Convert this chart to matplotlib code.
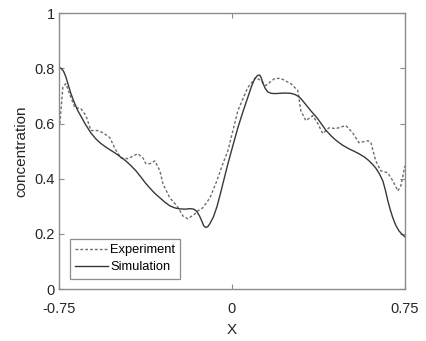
import numpy as np
import matplotlib
matplotlib.use("Agg")
import matplotlib.pyplot as plt

plt.rcParams['font.family'] = ['Liberation Sans', 'DejaVu Sans']

# simulation profile
x_sim = [-0.75, -0.74, -0.73, -0.72, -0.71, -0.698, -0.685, -0.668, -0.65,
         -0.637, -0.611, -0.59, -0.568, -0.545, -0.524, -0.50, -0.481, -0.46,
         -0.438, -0.415, -0.394, -0.375, -0.355, -0.335, -0.312, -0.29, -0.269,
         -0.245, -0.225, -0.20, -0.182, -0.165, -0.152, -0.14, -0.130, -0.122,
         -0.115, -0.105, -0.095, -0.08, -0.065, -0.05, -0.039, -0.017, 0.005,
         0.026, 0.048, 0.069, 0.085, 0.100, 0.112, 0.121, 0.128, 0.134, 0.145,
         0.156, 0.17, 0.186, 0.21, 0.230, 0.255, 0.273, 0.29, 0.30, 0.32,
         0.342, 0.36, 0.373, 0.39, 0.407, 0.43, 0.451, 0.48, 0.507, 0.53,
         0.551, 0.575, 0.594, 0.61, 0.624, 0.64, 0.655, 0.666, 0.676, 0.687,
         0.698, 0.71, 0.724, 0.737, 0.75]
c_sim = [0.804, 0.800, 0.790, 0.770, 0.742, 0.709, 0.680, 0.647, 0.620,
         0.600, 0.566, 0.545, 0.528, 0.514, 0.503, 0.490, 0.478, 0.465,
         0.448, 0.428, 0.406, 0.385, 0.366, 0.348, 0.331, 0.315, 0.302,
         0.294, 0.291, 0.290, 0.292, 0.290, 0.282, 0.265, 0.246, 0.230,
         0.224, 0.226, 0.238, 0.262, 0.298, 0.345, 0.382, 0.455, 0.522,
         0.585, 0.643, 0.695, 0.735, 0.764, 0.775, 0.776, 0.765, 0.748, 0.727,
         0.715, 0.710, 0.709, 0.710, 0.711, 0.710, 0.706, 0.698, 0.690, 0.670,
         0.647, 0.630, 0.617, 0.597, 0.577, 0.556, 0.540, 0.522, 0.509, 0.500,
         0.491, 0.479, 0.466, 0.453, 0.439, 0.418, 0.392, 0.358, 0.322, 0.288,
         0.259, 0.233, 0.212, 0.200, 0.19]

# measured profile
x_exp = [-0.746, -0.733, -0.720, -0.698, -0.681, -0.655, -0.633, -0.611, -0.581,
         -0.559, -0.529, -0.507, -0.481, -0.451, -0.408, -0.386, -0.373, -0.355,
         -0.334, -0.312, -0.299, -0.269, -0.238, -0.212, -0.191, -0.160, -0.147,
         -0.126, -0.095, -0.065, -0.039, -0.017, 0.026, 0.069, 0.104, 0.126,
         0.147, 0.186, 0.212, 0.256, 0.286, 0.299, 0.321, 0.351, 0.373, 0.394,
         0.421, 0.451, 0.494, 0.524, 0.551, 0.590, 0.603, 0.624, 0.646, 0.676,
         0.698, 0.720, 0.733, 0.746, 0.75]
c_exp = [0.60, 0.731, 0.745, 0.695, 0.658, 0.655, 0.629, 0.575, 0.575,
         0.567, 0.549, 0.509, 0.476, 0.473, 0.491, 0.476, 0.455, 0.455,
         0.465, 0.429, 0.382, 0.331, 0.302, 0.265, 0.255, 0.273, 0.284,
         0.295, 0.331, 0.393, 0.455, 0.502, 0.647, 0.731, 0.767, 0.756,
         0.738, 0.764, 0.764, 0.745, 0.720, 0.647, 0.611, 0.629, 0.600, 0.564,
         0.585, 0.582, 0.593, 0.567, 0.531, 0.538, 0.531, 0.465, 0.429, 0.422,
         0.393, 0.356, 0.375, 0.429, 0.447]

x_ticks = [-0.75, 0, 0.75]
x_tick_labels = ['-0.75', '0', '0.75']
y_ticks = [0, 0.2, 0.4, 0.6, 0.8, 1]
y_tick_labels = ['0', '0.2', '0.4', '0.6', '0.8', '1']

fig = plt.figure(figsize=(4.27, 3.41), dpi=100)
ax = fig.add_axes([0.138, 0.152, 0.810, 0.809])

ax.plot(x_exp, c_exp, linestyle=(0, (2, 1.5)), color='#6e6e6e', linewidth=1.0,
        label='Experiment')
ax.plot(x_sim, c_sim, linestyle='-', color='#383838', linewidth=1.0,
        label='Simulation')

ax.set_xlim(-0.75, 0.75)
ax.set_ylim(0, 1)
ax.set_xticks(x_ticks)
ax.set_xticklabels(x_tick_labels)
ax.set_yticks(y_ticks)
ax.set_yticklabels(y_tick_labels)

for s in ax.spines.values():
    s.set_color('#8c8c8c')
    s.set_linewidth(1.0)
ax.tick_params(direction='in', length=3.5, width=0.8, color='#8c8c8c',
               labelsize=10.5, labelcolor='#262626', top=True, right=True)
ax.tick_params(axis='x', pad=9)
ax.tick_params(axis='y', pad=3)

ax.set_xlabel('X', fontsize=11, color='#262626', labelpad=5)
ax.set_ylabel('concentration', fontsize=11, color='#262626', labelpad=4)

leg = ax.legend(loc='lower left', bbox_to_anchor=(0.012, 0.015), fontsize=9.3,
                handlelength=2.6, handletextpad=0.15, borderpad=0.4,
                labelspacing=0.4, fancybox=False, framealpha=1)
leg.get_frame().set_edgecolor('#8c8c8c')
leg.get_frame().set_linewidth(0.9)

fig.savefig('out.png', dpi=100)
